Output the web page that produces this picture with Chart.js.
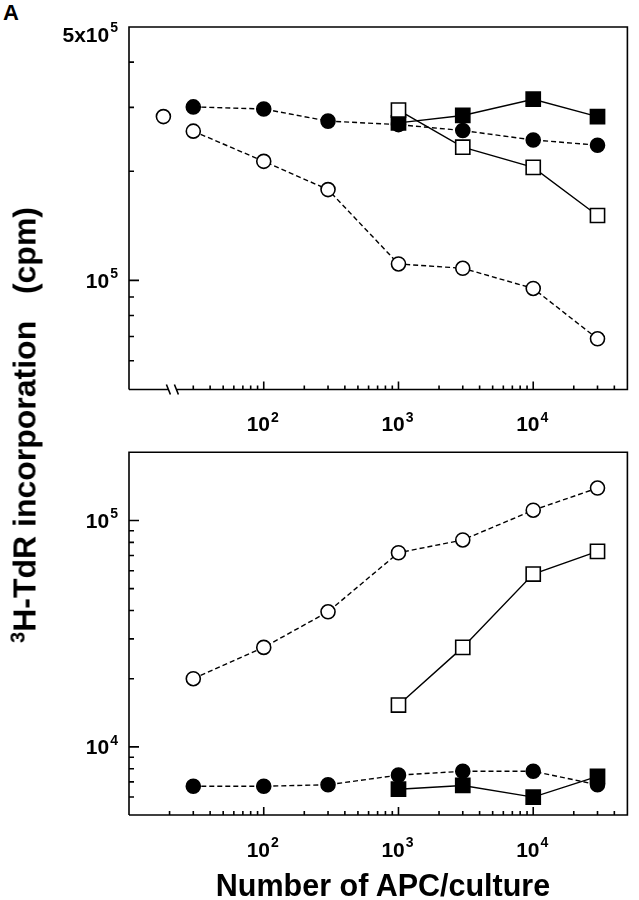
<!DOCTYPE html>
<html>
<head>
<meta charset="utf-8">
<script src="https://cdn.jsdelivr.net/npm/chart.js@4.4.0/dist/chart.umd.min.js"></script>
<style>
  body { margin: 0; background: #fff; }
  #page { position: relative; width: 639px; height: 900px; font-family: "Liberation Sans", Arial, sans-serif; font-weight: bold; color: #000; }
  canvas { position: absolute; left: 0; }
  #letter { position: absolute; left: 3px; top: 0px; font-size: 22px; }
  #ytitle { position: absolute; left: 25px; top: 425px; transform: translate(-50%, -50%) rotate(-90deg); white-space: nowrap; font-size: 32px; }
  #ytitle sup { font-size: 20px; vertical-align: 11px; line-height: 0; }
  #xtitle { position: absolute; left: 383px; top: 885px; transform: translate(-50%, -50%); white-space: nowrap; font-size: 30.5px; }
</style>
</head>
<body>
<div id="page">
  <div id="letter">A</div>
  <canvas id="top" width="639" height="445" style="top:0px"></canvas>
  <canvas id="bottom" width="639" height="430" style="top:440px"></canvas>
  <div id="ytitle"><sup>3</sup>H-TdR incorporation&nbsp;&nbsp;&nbsp;(cpm)</div>
  <div id="xtitle">Number of APC/culture</div>
</div>
<script>
// doses d'APC (axe x)
var apcDoses = [30, 100, 300, 1000, 3000, 10000, 30000];
var apcDosesHigh = [1000, 3000, 10000, 30000];
var apcZero = [18];

// panneau du haut
var topOpenZero = [283000];
var topOpenCircle = [258000, 213000, 178000, 111000, 108000, 95000, 69000];
var topFilledCircle = [301000, 297000, 275000, 269000, 259000, 244000, 236000];
var topOpenSquare = [295000, 233000, 205000, 151000];
var topFilledSquare = [272000, 285000, 316000, 283000];

// panneau du bas
var bottomOpenCircle = [20000, 27500, 39500, 72000, 82000, 111000, 139000];
var bottomOpenSquare = [15300, 27500, 58000, 73000];
var bottomFilledCircle = [6700, 6700, 6800, 7500, 7800, 7800, 6800];
var bottomFilledSquare = [6500, 6750, 6000, 7400];

// graduations
var xTickValues = [100, 1000, 10000];
var xTickBases = ['10', '10', '10'];
var xTickExps = ['2', '3', '4'];
var topYTickValues = [500000, 100000];
var topYTickBases = ['5x10', '10'];
var topYTickExps = ['5', '5'];
var bottomYTickValues = [100000, 10000];
var bottomYTickBases = ['10', '10'];
var bottomYTickExps = ['5', '4'];

function minorTicks(from, to) {
    var out = [];
    for (var d = 1; d <= 1e5; d *= 10) {
        for (var m = 2; m <= 9; m++) {
            var v = m * d;
            if (v > from && v < to) out.push(v);
        }
    }
    return out;
}

function pts(xs, ys) {
    return ys.map(function(y, i) { return { x: xs[i], y: y }; });
}

function serie(xs, ys, style, filled, dashed) {
    return {
        data: pts(xs, ys),
        borderColor: '#000',
        borderWidth: 1.4,
        borderDash: dashed ? [5, 3] : [],
        showLine: xs.length > 1,
        pointStyle: style,
        pointRadius: style == 'rect' ? 10 : 7,
        pointBackgroundColor: filled ? '#000' : '#fff',
        pointBorderColor: '#000',
        pointBorderWidth: 1.6,
        fill: false,
        tension: 0
    };
}

function drawPow(ctx, base, exp, x, y, align) {
    ctx.font = 'bold 21px "Liberation Sans", Arial, sans-serif';
    var wb = ctx.measureText(base).width;
    ctx.font = 'bold 14px "Liberation Sans", Arial, sans-serif';
    var we = ctx.measureText(exp).width;
    var x0 = align == 'right' ? x - wb - we - 1 : x - (wb + we + 1) / 2;
    ctx.textAlign = 'left';
    ctx.textBaseline = 'alphabetic';
    ctx.font = 'bold 21px "Liberation Sans", Arial, sans-serif';
    ctx.fillText(base, x0, y + 7.5);
    ctx.font = 'bold 14px "Liberation Sans", Arial, sans-serif';
    ctx.fillText(exp, x0 + wb + 1, y - 2);
}

// cadre, graduations et étiquettes
var framePlugin = {
    id: 'frame',
    afterDatasetsDraw: function(chart, args, o) {
        var ctx = chart.ctx, a = chart.chartArea;
        var xs = chart.scales.x, ys = chart.scales.y;
        ctx.save();
        ctx.strokeStyle = '#000';
        ctx.fillStyle = '#000';
        ctx.lineWidth = 1.6;
        ctx.beginPath();
        ctx.moveTo(a.left, a.bottom);
        ctx.lineTo(a.left, a.top);
        ctx.lineTo(a.right, a.top);
        ctx.lineTo(a.right, a.bottom);
        if (o.breakAt) {
            var bx = xs.getPixelForValue(o.breakAt);
            ctx.lineTo(bx + 4, a.bottom);
            ctx.moveTo(bx - 4, a.bottom);
            ctx.lineTo(a.left, a.bottom);
            ctx.moveTo(bx - 6, a.bottom - 5); ctx.lineTo(bx - 2, a.bottom + 5);
            ctx.moveTo(bx + 2, a.bottom - 5); ctx.lineTo(bx + 6, a.bottom + 5);
        } else {
            ctx.lineTo(a.left, a.bottom);
        }
        ctx.stroke();

        ctx.beginPath();
        o.yMajor.forEach(function(v) { var y = ys.getPixelForValue(v); ctx.moveTo(a.left, y); ctx.lineTo(a.left + 10, y); });
        o.yMinor.forEach(function(v) { var y = ys.getPixelForValue(v); ctx.moveTo(a.left, y); ctx.lineTo(a.left + 5, y); });
        o.xMajor.forEach(function(v) { var x = xs.getPixelForValue(v); ctx.moveTo(x, a.bottom); ctx.lineTo(x, a.bottom - 8); });
        o.xMinor.forEach(function(v) { var x = xs.getPixelForValue(v); ctx.moveTo(x, a.bottom); ctx.lineTo(x, a.bottom - 4); });
        ctx.stroke();

        xTickValues.forEach(function(v, i) {
            drawPow(ctx, xTickBases[i], xTickExps[i], xs.getPixelForValue(v) - 1, a.bottom + 34, 'center');
        });
        o.yValues.forEach(function(v, i) {
            var y = Math.max(ys.getPixelForValue(v), a.top + 7);
            drawPow(ctx, o.yBases[i], o.yExps[i], a.left - 11, y, 'right');
        });
        ctx.restore();
    }
};

function makeOptions(ymin, ymax, xHeight, padTop, frame) {
    return {
        responsive: false,
        animation: false,
        layout: { padding: { top: padTop, left: 0, right: 6, bottom: 0 } },
        plugins: { legend: { display: false }, tooltip: { enabled: false }, frame: frame },
        scales: {
            x: {
                type: 'logarithmic', min: 10, max: 50000,
                ticks: { display: false }, grid: { display: false }, border: { display: false },
                afterFit: function(s) { s.height = xHeight; }
            },
            y: {
                type: 'logarithmic', min: ymin, max: ymax,
                ticks: { display: false }, grid: { display: false }, border: { display: false },
                afterFit: function(s) { s.width = 129; }
            }
        }
    };
}

var topChart = new Chart(document.getElementById('top'), {
    type: 'line',
    data: {
        datasets: [
            serie(apcDosesHigh, topOpenSquare, 'rect', false, false),
            serie(apcDosesHigh, topFilledSquare, 'rect', true, false),
            serie(apcDoses, topFilledCircle, 'circle', true, true),
            serie(apcDoses, topOpenCircle, 'circle', false, true),
            serie(apcZero, topOpenZero, 'circle', false, true)
        ]
    },
    options: makeOptions(50000, 500000, 55.5, 27, {
        breakAt: 21,
        yMajor: [100000],
        yMinor: [400000, 300000, 200000, 90000, 80000, 70000, 60000],
        xMajor: xTickValues,
        xMinor: minorTicks(25, 50000),
        yValues: topYTickValues, yBases: topYTickBases, yExps: topYTickExps
    }),
    plugins: [framePlugin]
});

var bottomChart = new Chart(document.getElementById('bottom'), {
    type: 'line',
    data: {
        datasets: [
            serie(apcDosesHigh, bottomFilledSquare, 'rect', true, false),
            serie(apcDoses, bottomFilledCircle, 'circle', true, true),
            serie(apcDosesHigh, bottomOpenSquare, 'rect', false, false),
            serie(apcDoses, bottomOpenCircle, 'circle', false, true)
        ]
    },
    options: makeOptions(5000, 200000, 55, 12.3, {
        yMajor: [100000, 10000],
        yMinor: [90000, 80000, 70000, 60000, 50000, 40000, 30000, 20000, 9000, 8000, 7000, 6000],
        xMajor: xTickValues,
        xMinor: minorTicks(15, 50000),
        yValues: bottomYTickValues, yBases: bottomYTickBases, yExps: bottomYTickExps
    }),
    plugins: [framePlugin]
});
</script>
</body>
</html>
